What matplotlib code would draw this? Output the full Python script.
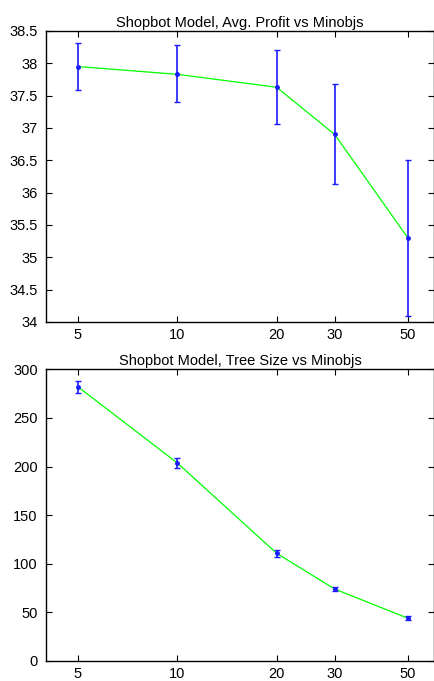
import matplotlib
matplotlib.use("Agg")
import matplotlib.pyplot as plt
from matplotlib.ticker import FixedLocator, NullLocator, FixedFormatter

plt.rcParams['font.family'] = ['Liberation Sans', 'DejaVu Sans']

minobjs = [5, 10, 20, 30, 50]
xtick_labels = ["5", "10", "20", "30", "50"]

profit = [37.95, 37.83, 37.63, 36.90, 35.30]
profit_lo = [37.58, 37.40, 37.06, 36.13, 34.09]
profit_hi = [38.32, 38.28, 38.21, 37.68, 36.51]

tree = [282, 203.7, 110.8, 74, 44]
tree_err = [6, 4.8, 3.8, 2.5, 2]

fig = plt.figure(figsize=(4.35, 6.81), dpi=100)
ax1 = fig.add_axes([0.1057, 0.5272, 0.892, 0.4273])
ax2 = fig.add_axes([0.1057, 0.0294, 0.892, 0.4283])


def style_axis(ax, title):
    ax.set_xscale("log")
    ax.set_xlim(4, 60)
    ax.xaxis.set_major_locator(FixedLocator(minobjs))
    ax.xaxis.set_major_formatter(FixedFormatter(xtick_labels))
    ax.xaxis.set_minor_locator(NullLocator())
    ax.tick_params(direction="in", top=True, right=True, length=4, width=0.8,
                   labelsize=10.5)
    ax.tick_params(axis="x", pad=4.5)
    ax.tick_params(axis="y", pad=6)
    for s in ax.spines.values():
        s.set_linewidth(1.0)
    ax.set_title(title, fontsize=10.5, pad=3)


# top panel: average profit
err_lo = [p - lo for p, lo in zip(profit, profit_lo)]
err_hi = [hi - p for p, hi in zip(profit, profit_hi)]
ax1.plot(minobjs, profit, color="#00ff00", lw=0.9, zorder=2)
ax1.errorbar(minobjs, profit, yerr=[err_lo, err_hi], fmt="o", color="#1a1aff",
             ms=2.5, elinewidth=1.2, capsize=2, capthick=1, zorder=3)
ax1.set_ylim(34, 38.5)
ax1.set_yticks([34, 34.5, 35, 35.5, 36, 36.5, 37, 37.5, 38, 38.5])
ax1.set_yticklabels(["34", "34.5", "35", "35.5", "36", "36.5", "37", "37.5", "38", "38.5"])
style_axis(ax1, "Shopbot Model, Avg. Profit vs Minobjs")

# bottom panel: tree size
ax2.plot(minobjs, tree, color="#00ff00", lw=0.9, zorder=2)
ax2.errorbar(minobjs, tree, yerr=tree_err, fmt="o", color="#1a1aff",
             ms=2.5, elinewidth=1.2, capsize=2, capthick=1, zorder=3)
ax2.set_ylim(0, 300)
ax2.set_yticks([0, 50, 100, 150, 200, 250, 300])
style_axis(ax2, "Shopbot Model, Tree Size vs Minobjs")

fig.savefig("out.png", dpi=100)
